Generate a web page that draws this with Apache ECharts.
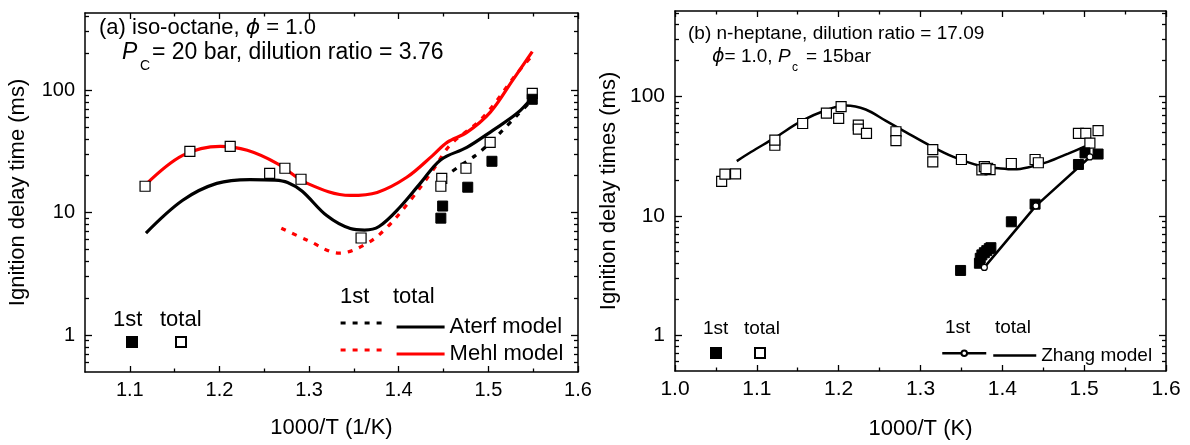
<!DOCTYPE html>
<html><head><meta charset="utf-8">
<script src="https://cdn.jsdelivr.net/npm/echarts@6/dist/echarts.min.js"></script>
<style>html,body{margin:0;padding:0;background:#fff}#c{width:1190px;height:445px}</style>
</head><body><div id="c"></div>
<script>
// ---------- data ----------
const xTicksA = [1.1, 1.2, 1.3, 1.4, 1.5, 1.6];
const xMinorA = [1.15, 1.25, 1.35, 1.45, 1.55];
const xTicksB = [1.0, 1.1, 1.2, 1.3, 1.4, 1.5, 1.6];
const xMinorB = [1.05, 1.15, 1.25, 1.35, 1.45, 1.55];
const yTicks = [1, 10, 100];
const yMinor = [0.6, 0.7, 0.8, 0.9, 2, 3, 4, 5, 6, 7, 8, 9, 20, 30, 40, 50, 60, 70, 80, 90, 200, 300, 400, 500];

// panel (a) iso-octane
const aterfTotal = [[1.118,6.8],[1.159,12.6],[1.197,17.3],[1.234,18.6],[1.262,18.4],[1.276,17.6],[1.292,15.0],[1.320,9.4],[1.346,7.4],[1.362,7.2],[1.378,7.7],[1.401,11.0],[1.424,17.3],[1.447,27.0],[1.476,34.0],[1.505,46.9],[1.532,64.5],[1.549,87]];
const aterfFirst = [[1.449,19],[1.468,24],[1.485,29],[1.500,36],[1.516,47],[1.532,62],[1.548,82]];
const mehlTotal = [[1.118,17.0],[1.159,29.3],[1.201,34.7],[1.231,32.2],[1.264,25.2],[1.298,17.3],[1.346,13.8],[1.376,14.6],[1.409,19.4],[1.438,29.3],[1.454,37.4],[1.476,45.1],[1.502,65.7],[1.527,120],[1.549,206]];
const mehlFirst = [[1.269,7.45],[1.298,5.95],[1.334,4.66],[1.365,5.62],[1.387,7.59],[1.413,12.6],[1.438,22.1],[1.457,35.3],[1.494,59.8],[1.532,137],[1.549,191]];
const expTotalA = [[1.117,16.4],[1.167,31.6],[1.212,34.7],[1.256,20.9],[1.273,23.0],[1.291,18.7],[1.358,6.2],[1.448,19.0],[1.447,16.4],[1.475,23.0],[1.502,37.4],[1.549,94]];
const expFirstA = [[1.449,11.3],[1.447,9.0],[1.477,16.1],[1.504,26.2],[1.549,84]];

// panel (b) n-heptane
const expTotalB = [[1.057,19.4],[1.061,22.3],[1.074,22.4],[1.122,39],[1.122,43],[1.156,59.3],[1.185,72.4],[1.200,65.5],[1.203,82.2],[1.224,57.4],[1.224,53.2],[1.234,49.0],[1.270,50.6],[1.270,42.7],[1.315,35.8],[1.315,28.3],[1.350,29.6],[1.375,24.2],[1.378,25.8],[1.382,25.0],[1.385,24.4],[1.380,24.8],[1.411,27.4],[1.440,29.6],[1.444,27.8],[1.493,49.0],[1.502,49.0],[1.507,40.6],[1.517,51.6]];
const expFirstB = [[1.349,3.48],[1.372,4.0],[1.373,4.4],[1.375,4.7],[1.378,4.9],[1.381,5.1],[1.384,5.3],[1.386,5.4],[1.411,8.9],[1.440,12.5],[1.493,26.9],[1.501,33.6],[1.517,32.9]];
const zhangTotal = [[1.0755,28.7],[1.0928,34.2],[1.1217,44.9],[1.1547,62.3],[1.1835,76.3],[1.2083,83.8],[1.2330,77.7],[1.2578,62.3],[1.2825,50.0],[1.3114,38.8],[1.3403,31.1],[1.3733,26.1],[1.3980,24.9],[1.4145,24.5],[1.4310,25.4],[1.4557,28.3],[1.4805,33.2],[1.5011,38.1]];
const zhangFirst = [[1.378,3.69],[1.441,12.1],[1.507,31.1]];

// ---------- chart ----------
const FONT = '"Liberation Sans", Arial, Helvetica, sans-serif';
const RED = '#ff0000';
const BLK = '#000000';
const DOT = [5, 7];

function xAx(grid, position, min, max, vals, len, opts) {
  opts = opts || {};
  return {
    type: 'value', gridIndex: grid, position, min, max,
    axisLine: {show: !!opts.line, onZero: false, lineStyle: {color: BLK, width: 1.5}},
    axisTick: {show: true, inside: true, length: len, customValues: vals, lineStyle: {color: BLK, width: 1.3}},
    axisLabel: opts.label ? {show: true, customValues: vals, formatter: v => v.toFixed(1), fontSize: opts.fs || 20, color: BLK, margin: 8, fontFamily: FONT} : {show: false},
    splitLine: {show: false},
    name: opts.name || '', nameLocation: 'middle', nameGap: opts.gap || 45,
    nameTextStyle: {fontSize: 22, color: BLK, fontFamily: FONT}
  };
}
function yAx(grid, position, min, max, vals, len, opts) {
  opts = opts || {};
  return {
    type: 'log', logBase: 10, gridIndex: grid, position, min, max,
    axisLine: {show: !!opts.line, onZero: false, lineStyle: {color: BLK, width: 1.5}},
    axisTick: {show: true, inside: true, length: len, customValues: vals, lineStyle: {color: BLK, width: 1.3}},
    axisLabel: opts.label ? {show: true, customValues: vals, formatter: v => String(Math.round(v)), fontSize: opts.fs || 20, color: BLK, margin: 10, fontFamily: FONT} : {show: false},
    splitLine: {show: false},
    name: opts.name || '', nameLocation: 'middle', nameGap: opts.gap || 56,
    nameTextStyle: {fontSize: 22, color: BLK, fontFamily: FONT}
  };
}

const YMAX_A = 425, YMAX_B = 520, YMIN = 0.5;

const xAxes = [
  xAx(0, 'bottom', 1.05, 1.6, xTicksA, 6, {line: true, label: true, name: '1000/T (1/K)', gap: 45}),
  xAx(0, 'bottom', 1.05, 1.6, xMinorA, 3.5),
  xAx(0, 'top', 1.05, 1.6, xTicksA, 6, {line: true}),
  xAx(0, 'top', 1.05, 1.6, xMinorA, 3.5),
  xAx(1, 'bottom', 1.0, 1.6, xTicksB, 6, {line: true, label: true, fs: 21, name: '1000/T (K)', gap: 47}),
  xAx(1, 'bottom', 1.0, 1.6, xMinorB, 3.5),
  xAx(1, 'top', 1.0, 1.6, xTicksB, 6, {line: true}),
  xAx(1, 'top', 1.0, 1.6, xMinorB, 3.5)
];
const yAxes = [
  yAx(0, 'left', YMIN, YMAX_A, yTicks, 7, {line: true, label: true, name: 'Ignition delay time (ms)', gap: 56}),
  yAx(0, 'left', YMIN, YMAX_A, yMinor, 4),
  yAx(0, 'right', YMIN, YMAX_A, yTicks, 7, {line: true}),
  yAx(0, 'right', YMIN, YMAX_A, yMinor, 4),
  yAx(1, 'left', YMIN, YMAX_B, yTicks, 7, {line: true, label: true, fs: 21, name: 'Ignition delay times (ms)', gap: 55}),
  yAx(1, 'left', YMIN, YMAX_B, yMinor, 4),
  yAx(1, 'right', YMIN, YMAX_B, yTicks, 7, {line: true}),
  yAx(1, 'right', YMIN, YMAX_B, yMinor, 4)
];

function lineS(name, data, xi, yi, color, width, dash, smooth) {
  return {name, type: 'line', xAxisIndex: xi, yAxisIndex: yi, data, smooth: smooth, symbol: 'none',
    lineStyle: {color, width, type: dash || 'solid', cap: 'butt', opacity: 1}, itemStyle: {color, opacity: 1}, z: 2, silent: true};
}
function sqS(name, data, xi, yi, filled) {
  return {name, type: 'scatter', xAxisIndex: xi, yAxisIndex: yi, data, symbol: 'rect', symbolSize: 10,
    itemStyle: filled ? {color: BLK, borderColor: BLK, borderWidth: 1, opacity: 1} : {color: '#ffffff', borderColor: BLK, borderWidth: 1.2, opacity: 1},
    z: filled ? 4 : 3, silent: true};
}

const series = [
  lineS('Mehl total', mehlTotal, 0, 0, RED, 3.2, 'solid', 0.35),
  lineS('Mehl 1st', mehlFirst, 0, 0, RED, 3.2, DOT, 0.35),
  lineS('Aterf total', aterfTotal, 0, 0, BLK, 3.2, 'solid', 0.35),
  lineS('Aterf 1st', aterfFirst, 0, 0, BLK, 3.2, DOT, 0.3),
  sqS('Exp total a', expTotalA, 0, 0, false),
  sqS('Exp 1st a', expFirstA, 0, 0, true),
  lineS('Zhang total', zhangTotal, 4, 4, BLK, 2.5, 'solid', 0.35),
  sqS('Exp total b', expTotalB, 4, 4, false),
  sqS('Exp 1st b', expFirstB, 4, 4, true),
  {name: 'Zhang 1st', type: 'line', xAxisIndex: 4, yAxisIndex: 4, data: zhangFirst, symbol: 'circle', symbolSize: 6, showSymbol: true,
    lineStyle: {color: BLK, width: 2.5, opacity: 1}, itemStyle: {color: '#ffffff', borderColor: BLK, borderWidth: 1.2, opacity: 1}, z: 5, silent: true}
];

function lg(name, left, top, w, h, text, fs, hideSym, lineStyle) {
  const o = {show: true, left, top, padding: 0, itemGap: 0, itemWidth: w, itemHeight: h, selectedMode: false,
    data: [name], formatter: () => text, textStyle: {fontSize: fs, color: BLK, fontFamily: FONT}};
  if (hideSym) o.itemStyle = {opacity: 0};
  if (lineStyle) o.lineStyle = lineStyle;
  return o;
}
const legends = [
  lg('Exp 1st a', 126, 336, 10, 10, '', 22),
  lg('Exp total a', 175, 336, 10, 10, '', 22),
  lg('Aterf 1st', 339, 316, 46, 14, '', 22, true, {width: 3.2, type: DOT, color: BLK}),
  lg('Aterf total', 395, 316, 48, 14, 'Aterf model', 22, true, {width: 3.2, type: 'solid', color: BLK}),
  lg('Mehl 1st', 339, 343, 46, 14, '', 22, true, {width: 3.2, type: DOT, color: RED}),
  lg('Mehl total', 395, 343, 48, 14, 'Mehl model', 22, true, {width: 3.2, type: 'solid', color: RED}),
  lg('Exp 1st b', 710, 347, 10, 10, '', 19),
  lg('Exp total b', 754, 347, 10, 10, '', 19),
  lg('Zhang 1st', 941, 349.5, 44, 7, '', 19, false, {width: 2.5, type: 'solid', color: BLK}),
  lg('Zhang total', 992, 346, 43, 14, 'Zhang model', 19, true, {width: 2.5, type: 'solid', color: BLK})
];

function txt(x, y, text, fs, extra) {
  return Object.assign({type: 'text', x, y, silent: true,
    style: {text, fontSize: fs, fontFamily: FONT, fill: BLK, align: 'left', verticalAlign: 'middle'}}, extra || {});
}
function rtxt(x, y, text, fs) {
  return {type: 'text', x, y, silent: true,
    style: {text, fontSize: fs, fontFamily: FONT, fill: BLK, align: 'left', verticalAlign: 'middle',
      rich: {n: {fontSize: fs, fontFamily: FONT, fill: BLK},
             i: {fontSize: fs, fontFamily: FONT, fontStyle: 'italic', fill: BLK},
             g: {fontSize: fs, fontFamily: '"DejaVu Sans", sans-serif', fontStyle: 'italic', fill: BLK}}}};
}
const graphics = [
  rtxt(99, 28, '{n|(a) iso-octane, }{g|ϕ}{n| = 1.0}', 22),
  rtxt(122, 53, '{i|P}', 23),
  txt(140, 66, 'C', 14),
  txt(152, 53, '= 20 bar, dilution ratio = 3.76', 23),
  txt(113, 320, '1st', 22),
  txt(160, 320, 'total', 22),
  txt(340, 297, '1st', 22),
  txt(393, 297, 'total', 22),
  txt(688, 34, '(b) n-heptane, dilution ratio = 17.09', 19),
  rtxt(712, 57, '{g|ϕ}{n|= 1.0, }{i|P}', 19),
  txt(792, 68, 'c', 12),
  txt(806, 57, '= 15bar', 19),
  txt(703, 329, '1st', 19),
  txt(744, 329, 'total', 19),
  txt(945, 328, '1st', 19),
  txt(995, 328, 'total', 19)
];

const chart = echarts.init(document.getElementById('c'), null, {renderer: 'canvas'});
chart.setOption({
  animation: false,
  backgroundColor: '#ffffff',
  textStyle: {fontFamily: FONT, color: BLK},
  grid: [
    {left: 85, right: 1190 - 578, top: 13, bottom: 445 - 372, containLabel: false},
    {left: 675, right: 1190 - 1166, top: 11, bottom: 445 - 373, containLabel: false}
  ],
  xAxis: xAxes,
  yAxis: yAxes,
  legend: legends,
  series,
  graphic: graphics
});
</script>
</body></html>
